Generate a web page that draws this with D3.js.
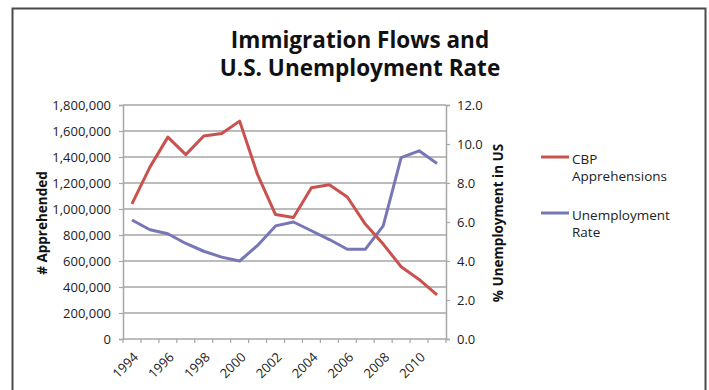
<!DOCTYPE html>
<html>
<head>
<meta charset="utf-8">
<script src="https://cdn.jsdelivr.net/npm/d3@7"></script>
<style>
  body { margin: 0; background: #fff; }
  svg { display: block; font-family: "Open Sans", "Noto Sans", sans-serif; }
</style>
</head>
<body>
<svg id="chart" width="709" height="390"></svg>
<script>
    // data
    var years = [1994, 1995, 1996, 1997, 1998, 1999, 2000, 2001, 2002,
                 2003, 2004, 2005, 2006, 2007, 2008, 2009, 2010, 2011];
    var apprehensions = [1040000, 1322000, 1553000, 1418000, 1561000, 1580000, 1676000, 1264000, 957000,
                         934000, 1163000, 1187000, 1092000, 884000, 730000, 556000, 458000, 339000];
    var unemployment = [6.1, 5.6, 5.4, 4.9, 4.5, 4.2, 4.0, 4.8, 5.8,
                        6.0, 5.55, 5.1, 4.6, 4.6, 5.8, 9.3, 9.65, 9.0];
    var leftTicks = [0, 200000, 400000, 600000, 800000, 1000000, 1200000, 1400000, 1600000, 1800000];
    var rightTicks = [0, 2, 4, 6, 8, 10, 12];
    var yearLabels = [1994, 1996, 1998, 2000, 2002, 2004, 2006, 2008, 2010];
    var titleLines = ["Immigration Flows and", "U.S. Unemployment Rate"];
    var legendItems = [
        {lines: ["CBP", "Apprehensions"], color: "#c9514e"},
        {lines: ["Unemployment", "Rate"], color: "#7777b8"}
    ];

    var svg = d3.select("#chart");
    var plot = {left: 123, right: 446, top: 105, bottom: 339};
    var gridColor = "#a6a6a6";

    // outer frame
    svg.append("path")
        .attr("d", "M12.5,400 V8.5 H705.5 V400")
        .attr("fill", "none")
        .attr("stroke", "#4a4a4a")
        .attr("stroke-width", 2);

    // title
    svg.append("g").selectAll("text")
        .data(titleLines)
        .join("text")
        .attr("x", 360)
        .attr("y", function(d, i){ return 48 + i * 28; })
        .attr("text-anchor", "middle")
        .attr("font-weight", "bold")
        .attr("font-size", 22.5)
        .attr("fill", "#111")
        .text(function(d){ return d; });

    var x = d3.scaleBand().domain(years).range([plot.left, plot.right]);
    var yLeft = d3.scaleLinear().domain([0, 1800000]).range([plot.bottom, plot.top]);
    var yRight = d3.scaleLinear().domain([0, 12]).range([plot.bottom, plot.top]);

    // gridlines
    svg.append("g").selectAll("line")
        .data(leftTicks.slice(1))
        .join("line")
        .attr("x1", plot.left).attr("x2", plot.right)
        .attr("y1", function(d){ return yLeft(d); })
        .attr("y2", function(d){ return yLeft(d); })
        .attr("stroke", gridColor)
        .attr("stroke-width", 1.5);

    // left axis
    var gl = svg.append("g")
        .attr("transform", "translate(" + plot.left + ",0)")
        .call(d3.axisLeft(yLeft).tickValues(leftTicks).tickSize(4).tickPadding(8)
              .tickFormat(d3.format(",")));
    // right axis
    var gr = svg.append("g")
        .attr("transform", "translate(" + plot.right + ",0)")
        .call(d3.axisRight(yRight).tickValues(rightTicks).tickSize(4).tickPadding(7)
              .tickFormat(d3.format(".1f")));
    // bottom axis: ticks between categories
    var gb = svg.append("g")
        .attr("transform", "translate(0," + plot.bottom + ")");
    gb.append("line")
        .attr("x1", plot.left).attr("x2", plot.right)
        .attr("stroke", gridColor).attr("stroke-width", 1.5);
    gb.selectAll("line.tick")
        .data(years.concat([null]))
        .join("line")
        .attr("class", "tick")
        .attr("x1", function(d, i){ return plot.left + i * x.bandwidth(); })
        .attr("x2", function(d, i){ return plot.left + i * x.bandwidth(); })
        .attr("y1", 0).attr("y2", 4)
        .attr("stroke", gridColor).attr("stroke-width", 1.2);
    gb.selectAll("text")
        .data(yearLabels)
        .join("text")
        .attr("text-anchor", "end")
        .attr("font-size", 13)
        .attr("fill", "#222")
        .attr("transform", function(d){
            return "translate(" + (x(d) + x.bandwidth() / 2 + 7) + ",19) rotate(-45)";
        })
        .text(function(d){ return d; });

    [gl, gr].forEach(function(g){
        g.select(".domain").attr("stroke", gridColor).attr("stroke-width", 1.5);
        g.selectAll(".tick line").attr("stroke", gridColor).attr("stroke-width", 1.2);
        g.selectAll(".tick text")
            .attr("font-size", 13)
            .attr("fill", "#222")
            .attr("font-family", "'Open Sans', sans-serif");
    });

    // axis titles
    svg.append("text")
        .attr("transform", "translate(47,223) rotate(-90)")
        .attr("text-anchor", "middle")
        .attr("font-weight", "bold")
        .attr("font-size", 13.5)
        .attr("fill", "#111")
        .text("# Apprehended");
    svg.append("text")
        .attr("transform", "translate(503,223) rotate(-90)")
        .attr("text-anchor", "middle")
        .attr("font-weight", "bold")
        .attr("font-size", 13.5)
        .attr("fill", "#111")
        .text("% Unemployment in US");

    // series lines
    var cx = function(i){ return x(years[i]) + x.bandwidth() / 2; };
    var lineLeft = d3.line().x(function(d, i){ return cx(i); }).y(function(d){ return yLeft(d); });
    var lineRight = d3.line().x(function(d, i){ return cx(i); }).y(function(d){ return yRight(d); });

    svg.append("path")
        .datum(unemployment)
        .attr("d", lineRight)
        .attr("fill", "none")
        .attr("stroke", legendItems[1].color)
        .attr("stroke-width", 3)
        .attr("stroke-linejoin", "round");
    svg.append("path")
        .datum(apprehensions)
        .attr("d", lineLeft)
        .attr("fill", "none")
        .attr("stroke", legendItems[0].color)
        .attr("stroke-width", 3)
        .attr("stroke-linejoin", "round");

    // legend
    var lg = svg.append("g").selectAll("g")
        .data(legendItems)
        .join("g")
        .attr("transform", function(d, i){ return "translate(541," + (157 + i * 56) + ")"; });
    lg.append("line")
        .attr("x1", 0).attr("x2", 28)
        .attr("stroke", function(d){ return d.color; })
        .attr("stroke-width", 3);
    lg.selectAll("text")
        .data(function(d){ return d.lines; })
        .join("text")
        .attr("x", 31)
        .attr("y", function(d, i){ return 7 + i * 16.5; })
        .attr("font-size", 13.5)
        .attr("fill", "#222")
        .text(function(d){ return d; });
</script>
</body>
</html>
